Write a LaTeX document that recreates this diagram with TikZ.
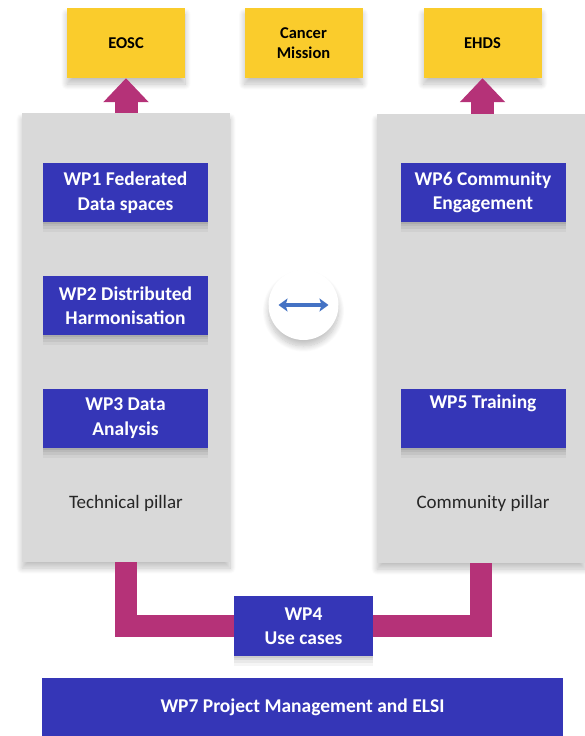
\documentclass[tikz,border=0pt]{standalone}
\usepackage{fontspec}
\setmainfont{Carlito}
\usetikzlibrary{arrows.meta,shadows,shadows.blur}
\definecolor{wpblue}{RGB}{53,54,183}
\definecolor{goalyellow}{RGB}{250,204,44}
\definecolor{pillargray}{RGB}{217,217,217}
\definecolor{linkmagenta}{RGB}{181,50,120}
\definecolor{iconblue}{RGB}{68,114,196}

\begin{document}
\begin{tikzpicture}[x=1pt,y=-1pt,
		shade/.style={blur shadow={shadow xshift=0pt,shadow yshift=-6pt,shadow blur radius=6pt,shadow blur steps=12,shadow opacity=25}},
		lift/.style={general shadow={fill=black,opacity=.07,shadow yshift=-2pt},general shadow={fill=black,opacity=.06,shadow yshift=-4pt},general shadow={fill=black,opacity=.05,shadow yshift=-7pt},general shadow={fill=black,opacity=.04,shadow yshift=-10pt}},
		goal/.style={fill=goalyellow,shade,minimum width=118pt,minimum height=70pt,inner sep=0pt,align=center,font=\fontsize{16.5}{20}\selectfont\bfseries},
		pillar/.style={fill=pillargray,shade,minimum width=208pt,minimum height=449pt,inner sep=0pt},
		wp/.style={fill=wpblue,text=white,lift,minimum width=165pt,minimum height=59pt,inner sep=0pt,align=center,font=\fontsize{19.5}{24.5}\selectfont\bfseries},
		label/.style={text=black!85,font=\fontsize{19}{22}\selectfont},
		feed/.style={draw=linkmagenta,line width=23pt,-{Triangle[length=24pt,width=44pt]}},
		link/.style={draw=linkmagenta,line width=22pt,line join=miter}]
	\useasboundingbox (0,0) rectangle (584,736);
	\node [goal] (eosc) at (126,43) {EOSC};
	\node [goal] (cancer) at (303.5,43) {Cancer\\Mission};
	\node [goal] (ehds) at (482.5,43) {EHDS};
	\node [pillar] (tech) at (126,337.5) {};
	\node [pillar] (comm) at (481,338.5) {};
	\draw [feed] (tech.north -| eosc.south) -- (eosc.south);
	\draw [feed] (comm.north -| ehds.south) -- (ehds.south);
	\node [wp] (wp1) at (125.5,192.5) {WP1 Federated\\Data spaces};
	\node [wp] (wp2) at (125.5,305.5) {WP2 Distributed\\Harmonisation};
	\node [wp] (wp3) at (125.5,418) {WP3 Data\\Analysis};
	\node [wp] (wp6) at (483,192.5) {WP6 Community\\Engagement};
	\node [wp] (wp5) at (483,418) {WP5 Training\\\strut};
	\node [label] (techlabel) at (126,503) {Technical pillar};
	\node [label] (commlabel) at (483,503) {Community pillar};
	\node [circle,fill=white,shade,minimum size=70pt] (sync) at (303.5,305) {};
	\coordinate (syncl) at ([xshift=-25pt]sync.center);
	\coordinate (syncr) at ([xshift=25pt]sync.center);
	\draw [iconblue,line width=3.5pt,{Stealth[length=9pt,width=13pt,inset=2pt]}-{Stealth[length=9pt,width=13pt,inset=2pt]}] (syncl) -- (syncr);
	\node [wp,minimum width=139pt,minimum height=60pt] (wp4) at (303.5,626) {WP4\\Use cases};
	\draw [link] (tech.south) |- (wp4.west);
	\draw [link] (wp4.east) -| (comm.south);
	\node [wp,minimum width=521pt,minimum height=58pt] (wp7) at (302.5,707) {WP7 Project Management and ELSI};
\end{tikzpicture}
\end{document}
